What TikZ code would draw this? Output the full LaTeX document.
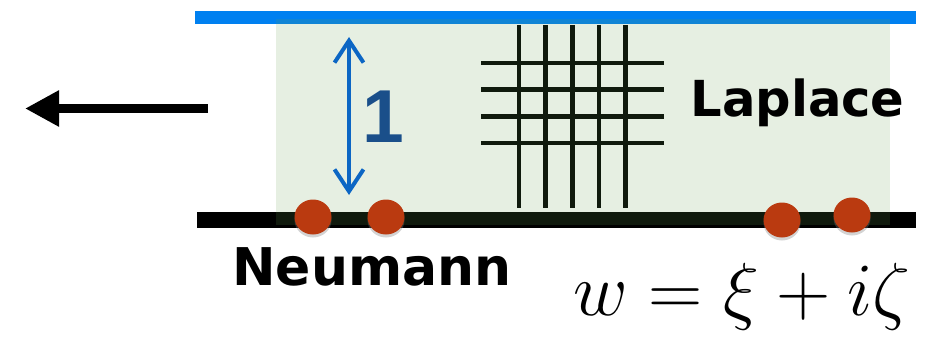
\RequirePackage{fix-cm}
\documentclass[tikz,border=0pt]{standalone}
\usepackage{fontspec}
\setsansfont{DejaVu Sans}
\newfontfamily\digitfont{Liberation Sans}
\definecolor{stripBlue}{RGB}{0,128,240}
\definecolor{arrowBlue}{RGB}{12,102,196}
\definecolor{oneBlue}{RGB}{26,79,138}
\definecolor{boxGreen}{RGB}{103,158,79}
\definecolor{dotRed}{RGB}{186,58,16}
\usepackage{tikz}
\usetikzlibrary{arrows.meta,shapes.geometric,shadows}

\begin{document}
\begin{tikzpicture}[
    x=0.5pt, y=-0.5pt,
    gridline/.style={line width=2.35pt, black},
    dot/.style={ellipse, fill=dotRed, minimum width=18.5pt, minimum height=17.5pt,
                inner sep=0pt, drop shadow={opacity=0.35, shadow xshift=0pt,
                shadow yshift=-1.5pt}},
    bigword/.style={font=\fontsize{26}{30}\selectfont\sffamily\bfseries,
                    inner sep=0pt, anchor=base west},
    push/.style={-{Triangle[length=17pt, width=17pt]}, line width=4.25pt},
    gap/.style={{Straight Barb[length=11pt, width=14.5pt]}-{Straight Barb[length=11pt, width=14.5pt]},
                line width=2pt, arrowBlue}
  ]
  \useasboundingbox (0,0) rectangle (930,342);

  % walls of the strip
  \fill[stripBlue] (195,11) rectangle (916,24);
  \fill[black]     (197,212) rectangle (916,228);

  % mesh
  \foreach \i in {0,...,4}
    \draw[gridline] (519+26.7*\i,25) -- ++(0,183);
  \foreach \j in {0,...,3}
    \draw[gridline] (481,63+26.7*\j) -- (664,63+26.7*\j);

  % Laplace region
  \fill[boxGreen, fill opacity=0.165] (276,19) rectangle (890,225);

  \coordinate (gapTop) at (349,37);
  \coordinate (gapBot) at (349,195);
  \draw[gap] (gapTop) -- (gapBot);
  \node[font=\fontsize{37.5}{40}\selectfont\digitfont\bfseries, text=oneBlue,
        inner sep=0pt, anchor=base] (one) at (383,142) {1};

  \coordinate (pushTail) at (208,108.5);
  \coordinate (pushTip)  at (25,108.5);
  \draw[push] (pushTail) -- (pushTip);

  \node[dot] (dot1) at (313,217) {};
  \node[dot] (dot2) at (386,217) {};
  \node[dot] (dot3) at (782,220) {};
  \node[dot] (dot4) at (852,215) {};

  \node[bigword, font=\fontsize{24.8}{28}\selectfont\sffamily\bfseries] (laplace) at (690,117) {Laplace};
  \node[bigword] (neumann) at (232,285) {Neumann};
  \node[font=\fontsize{37.6}{40}\selectfont, inner sep=0pt, anchor=base west]
    (plane) at (573,315) {$w = \xi + i\zeta$};
\end{tikzpicture}
\end{document}
